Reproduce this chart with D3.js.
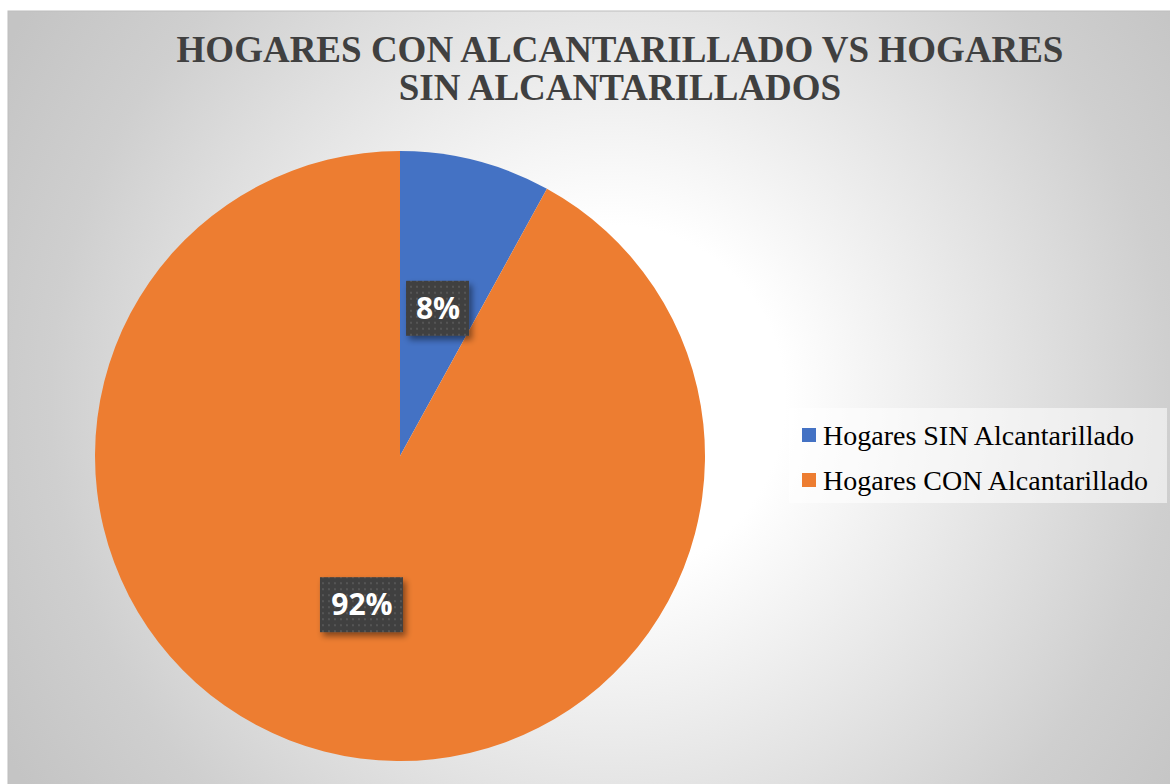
<!DOCTYPE html>
<html>
<head>
    <meta charset="utf-8">
    <title>Hogares con alcantarillado</title>
    <script src="https://d3js.org/d3.v7.min.js"></script>
    <style>
        body { margin: 0; background: #fff; }
    </style>
</head>
<body>
    <svg class="pieChart" width="1170" height="784"></svg>

    <script>
// datos
const categorias = ['Hogares SIN Alcantarillado', 'Hogares CON Alcantarillado'];
const valores = [8, 92];
const colores = ['#4472C4', '#ED7D31'];
const titulo = ['HOGARES CON ALCANTARILLADO VS HOGARES', 'SIN ALCANTARILLADOS'];

function dibujarGrafico() {
    const svg = d3.select('.pieChart');
    const defs = svg.append('defs');

    // fondo con degradado radial
    const grad = defs.append('radialGradient')
        .attr('id', 'fondo')
        .attr('gradientUnits', 'userSpaceOnUse')
        .attr('cx', 610).attr('cy', 400).attr('r', 700);
    grad.append('stop').attr('offset', '0%').attr('stop-color', '#ffffff');
    grad.append('stop').attr('offset', '25%').attr('stop-color', '#ffffff');
    grad.append('stop').attr('offset', '80%').attr('stop-color', '#cfcfcf');
    grad.append('stop').attr('offset', '100%').attr('stop-color', '#c4c4c4');

    svg.append('rect')
        .attr('x', 8).attr('y', 11)
        .attr('width', 1170).attr('height', 790)
        .attr('fill', 'url(#fondo)')
        .attr('stroke', '#bdbdbd')
        .attr('stroke-width', 1);

    // patrón de puntos para las etiquetas
    const pat = defs.append('pattern')
        .attr('id', 'puntos')
        .attr('width', 6).attr('height', 6)
        .attr('patternUnits', 'userSpaceOnUse');
    pat.append('rect').attr('width', 6).attr('height', 6).attr('fill', '#404040');
    pat.append('rect').attr('x', 2).attr('y', 2).attr('width', 2).attr('height', 2).attr('fill', '#555555');

    const sombra = defs.append('filter').attr('id', 'sombra')
        .attr('x', '-20%').attr('y', '-20%').attr('width', '150%').attr('height', '160%');
    sombra.append('feDropShadow')
        .attr('dx', 3).attr('dy', 4).attr('stdDeviation', 3)
        .attr('flood-color', '#000').attr('flood-opacity', 0.45);

    // título
    svg.append('text')
        .attr('x', 620).attr('y', 62)
        .attr('text-anchor', 'middle')
        .style('font-family', '"Liberation Serif", "Times New Roman", serif')
        .style('font-weight', 'bold')
        .style('font-size', '37px')
        .attr('fill', '#404040')
        .selectAll('tspan')
        .data(titulo)
        .enter().append('tspan')
        .attr('x', 620)
        .attr('dy', (d, i) => i === 0 ? 0 : 38)
        .text(d => d);

    // pastel
    const radio = 305;
    const g = svg.append('g').attr('transform', 'translate(400,456)');

    const pie = d3.pie().sort(null).value(d => d);
    const arco = d3.arc().innerRadius(0).outerRadius(radio);
    const arcoEtiqueta = d3.arc().innerRadius(153).outerRadius(153);
    const arcos = pie(valores);

    g.selectAll('.slice')
        .data(arcos)
        .enter().append('path')
        .attr('class', 'slice')
        .attr('d', arco)
        .attr('fill', (d, i) => colores[i]);

    // etiquetas de porcentaje
    const total = d3.sum(valores);
    const etiquetas = g.selectAll('.etiqueta')
        .data(arcos)
        .enter().append('g')
        .attr('class', 'etiqueta')
        .attr('transform', d => `translate(${arcoEtiqueta.centroid(d)})`);

    etiquetas.append('rect')
        .attr('x', (d, i) => i === 0 ? -32 : -42)
        .attr('y', -27)
        .attr('width', (d, i) => i === 0 ? 63 : 83)
        .attr('height', 55)
        .attr('fill', 'url(#puntos)')
        .attr('filter', 'url(#sombra)');

    etiquetas.append('text')
        .attr('text-anchor', 'middle')
        .attr('dy', '0.36em')
        .style('font-family', '"Open Sans", Calibri, sans-serif')
        .style('font-weight', 'bold')
        .style('font-size', '30px')
        .attr('fill', '#ffffff')
        .text(d => Math.round(d.data / total * 100) + '%');

    // leyenda
    const leyenda = svg.append('g').attr('transform', 'translate(789,408)');
    leyenda.append('rect')
        .attr('width', 378).attr('height', 95)
        .attr('fill', '#ffffff').attr('fill-opacity', 0.55);

    const items = leyenda.selectAll('.item')
        .data(categorias)
        .enter().append('g')
        .attr('class', 'item')
        .attr('transform', (d, i) => `translate(13,${28 + i * 45})`);

    items.append('rect')
        .attr('x', 0).attr('y', -8)
        .attr('width', 14).attr('height', 14)
        .attr('fill', (d, i) => colores[i]);

    items.append('text')
        .attr('x', 21).attr('y', 9)
        .style('font-family', '"Liberation Serif", "Times New Roman", serif')
        .style('font-size', '28px')
        .attr('fill', '#000')
        .text(d => d);
}

dibujarGrafico();
    </script>
</body>
</html>
